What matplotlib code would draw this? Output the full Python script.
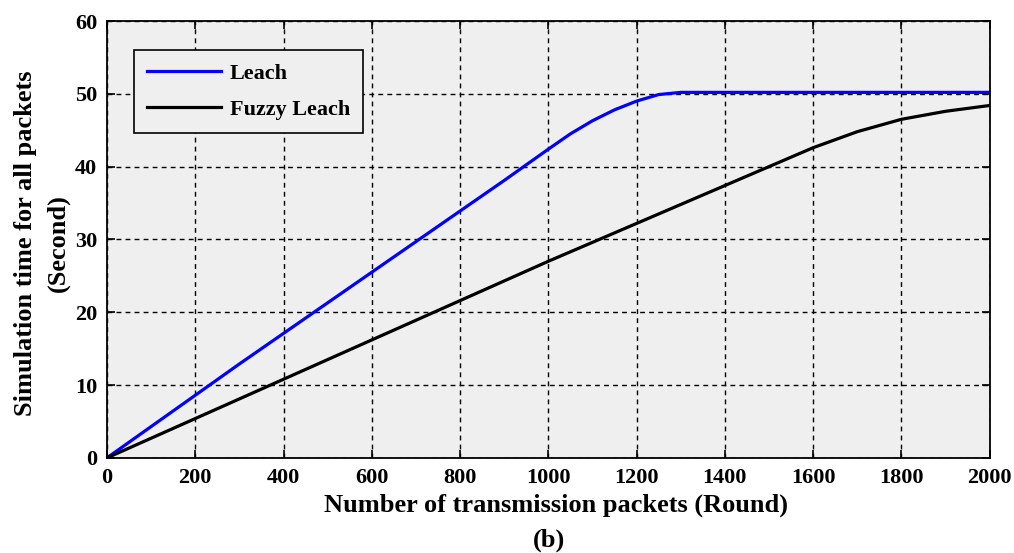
import numpy as np
import matplotlib
matplotlib.use('Agg')
from matplotlib import pyplot as plt

# values
rounds = [0, 100, 200, 300, 400, 500, 600, 700, 800, 900, 1000, 1050, 1100, 1150,
          1200, 1250, 1300, 1400, 1500, 1600, 1700, 1800, 1900, 2000]
leach = [0, 4.3, 8.6, 12.9, 17.1, 21.3, 25.5, 29.7, 33.9, 38.1, 42.4, 44.5, 46.3, 47.8,
         49.0, 49.9, 50.2, 50.2, 50.2, 50.2, 50.2, 50.2, 50.2, 50.2]
fuzzy = [0, 2.7, 5.4, 8.1, 10.8, 13.5, 16.2, 18.9, 21.6, 24.3, 27.0, 28.3, 29.6, 30.9,
         32.2, 33.5, 34.8, 37.4, 40.0, 42.6, 44.8, 46.5, 47.6, 48.4]

x_ticks = np.arange(0, 2001, 200)
y_ticks = np.arange(0, 61, 10)

plt.rcParams['font.family'] = ['Liberation Serif', 'DejaVu Serif']
plt.rcParams['font.weight'] = 'bold'

fig = plt.figure(figsize=(10.14, 5.53), dpi=100)
ax = fig.add_axes([0.1055, 0.172, 0.8705, 0.790])
ax.set_facecolor('#efefef')

ax.plot(rounds, leach, color='#0000ff', lw=2.3, label='Leach')
ax.plot(rounds, fuzzy, color='black', lw=2.3, label='Fuzzy Leach')

ax.set_xlim(0, 2000)
ax.set_ylim(0, 60)
ax.set_xticks(x_ticks)
ax.set_yticks(y_ticks)
ax.tick_params(direction='in', top=True, right=True, length=6, width=1.2,
               labelsize=16, pad=7)
for lbl in ax.get_xticklabels() + ax.get_yticklabels():
    lbl.set_fontweight('bold')
ax.grid(True, color='black', ls=(0, (3.5, 3)), lw=1.0)
for s in ax.spines.values():
    s.set_linewidth(1.3)

fig.text(0.548, 0.087, 'Number of transmission packets (Round)', fontsize=19,
         fontweight='bold', ha='center', va='center')
fig.text(0.541, 0.023, '(b)', fontsize=19, fontweight='bold',
         ha='center', va='center')
fig.text(0.025, 0.56, 'Simulation time for all packets', fontsize=19,
         fontweight='bold', ha='center', va='center', rotation=90)
fig.text(0.057, 0.56, '(Second)', fontsize=19, fontweight='bold',
         ha='center', va='center', rotation=90)

leg = ax.legend(loc='upper left', bbox_to_anchor=(0.0306, 0.934), fontsize=16,
                frameon=True, fancybox=False, edgecolor='black',
                borderaxespad=0, handlelength=3.3, handletextpad=0.4,
                borderpad=0.6, labelspacing=0.7)
leg.get_frame().set_linewidth(1.2)
leg.get_frame().set_facecolor('#efefef')
leg.get_frame().set_alpha(1)

fig.savefig('out.png', dpi=100)
